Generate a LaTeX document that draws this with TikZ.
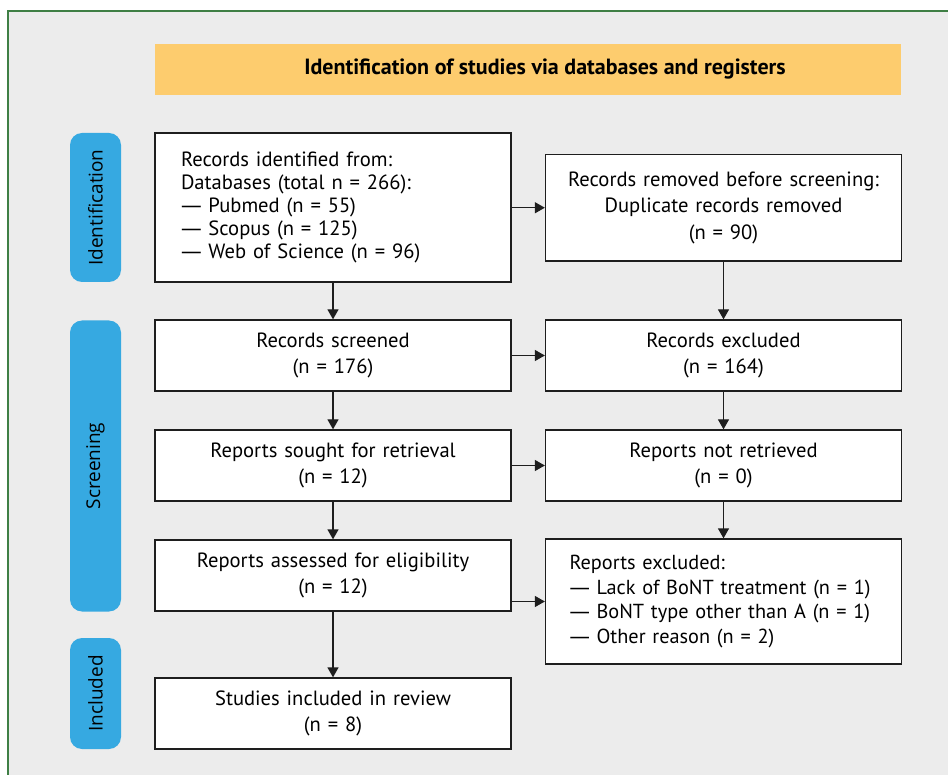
\documentclass[tikz,border=0pt]{standalone}
\usepackage{fontspec}
\setmainfont{PT Sans}
\newfontfamily\sidefont{Open Sans}
\newcommand{\emd}{{\sidefont —}}
\usetikzlibrary{arrows.meta}
\definecolor{bgc}{HTML}{ECECEC}
\definecolor{hdrc}{HTML}{FDCC6E}
\definecolor{pillc}{HTML}{36A9E1}
\definecolor{framec}{HTML}{3F7F45}
\definecolor{linec}{HTML}{1E1E1E}
\begin{document}
\begin{tikzpicture}[x=1pt,y=-1pt,
  box/.style={draw=linec, fill=white, line width=1.3pt, text width=340pt, inner xsep=8pt, inner ysep=0pt, align=center, minimum height=71pt, font=\fontsize{20.6}{26}\selectfont},
  lbox/.style={box, align=left, text width=356pt, inner xsep=0pt},
  pill/.style={fill=pillc, rounded corners=12pt, rotate=90, minimum height=51pt, inner sep=0pt, font=\sidefont\fontsize{19}{19}\selectfont},
  arr/.style={draw=linec, line width=1.3pt, -{Triangle[length=10pt,width=11pt]}}
]
\useasboundingbox (0,0) rectangle (948,775);
\fill[white] (0,0) rectangle (948,775);
\fill[bgc] (8,11) rectangle (948,775);
\draw[framec, line width=1.6pt] (8,775) -- (8,11) -- (948,11);

\node[fill=hdrc, minimum width=746pt, minimum height=51pt, inner sep=0pt, font=\bfseries\fontsize{22}{24}\selectfont] (hdr) at (528,69.5) {\hspace*{34pt}Identification of studies via databases and registers};

\node[pill, minimum width=149pt] (pid) at (95.5,207.5) {Identification};
\node[pill, minimum width=291pt] (pscr) at (95.5,466) {Screening};
\node[pill, minimum width=111pt] (pinc) at (95.5,693.5) {Included};

\node[lbox, minimum height=149pt, font=\fontsize{20.6}{22.8}\selectfont] (ident) at (333,207.5) {\leftskip=26pt Records identified from:\\Databases (total n = 266):\\\emd{} Pubmed (n = 55)\\\emd{} Scopus (n = 125)\\\emd{} Web of Science (n = 96)\par};
\node[box, minimum height=106.5pt, font=\fontsize{20.6}{26.6}\selectfont] (removed) at (723.5,207.75) {Records removed before screening:\\Duplicate records removed\\(n = 90)};
\node[box] (screened) at (333,355.5) {Records screened\\(n = 176)};
\node[box] (excluded) at (723.5,355.5) {Records excluded\\(n = 164)};
\node[box] (sought) at (333,465.5) {Reports sought for retrieval\\(n = 12)};
\node[box] (notret) at (723.5,465.5) {Reports not retrieved\\(n = 0)};
\node[box] (assessed) at (333,575.5) {Reports assessed for eligibility\\(n = 12)};
\node[lbox, minimum height=125pt, font=\fontsize{20.3}{24.5}\selectfont] (rexcl) at (723.5,601.5) {\leftskip=24pt Reports excluded:\\\emd{} Lack of BoNT treatment (n = 1)\\\emd{} BoNT type other than A (n = 1)\\\emd{} Other reason (n = 2)\par};
\node[box] (included) at (333,713.5) {Studies included in review\\(n = 8)};

\draw[arr] (ident.east |- removed.west) -- (removed.west);
\draw[arr] (screened) -- (excluded);
\draw[arr] (sought) -- (notret);
\draw[arr] (assessed.east |- rexcl.west) -- (rexcl.west);

\draw[arr] (ident) -- (screened);
\draw[arr] (screened) -- (sought);
\draw[arr] (sought) -- (assessed);
\draw[arr] (assessed) -- (included);
\draw[arr] (removed) -- (excluded);
\draw[arr] (excluded) -- (notret);
\draw[arr] (notret) -- (rexcl);
\end{tikzpicture}
\end{document}
